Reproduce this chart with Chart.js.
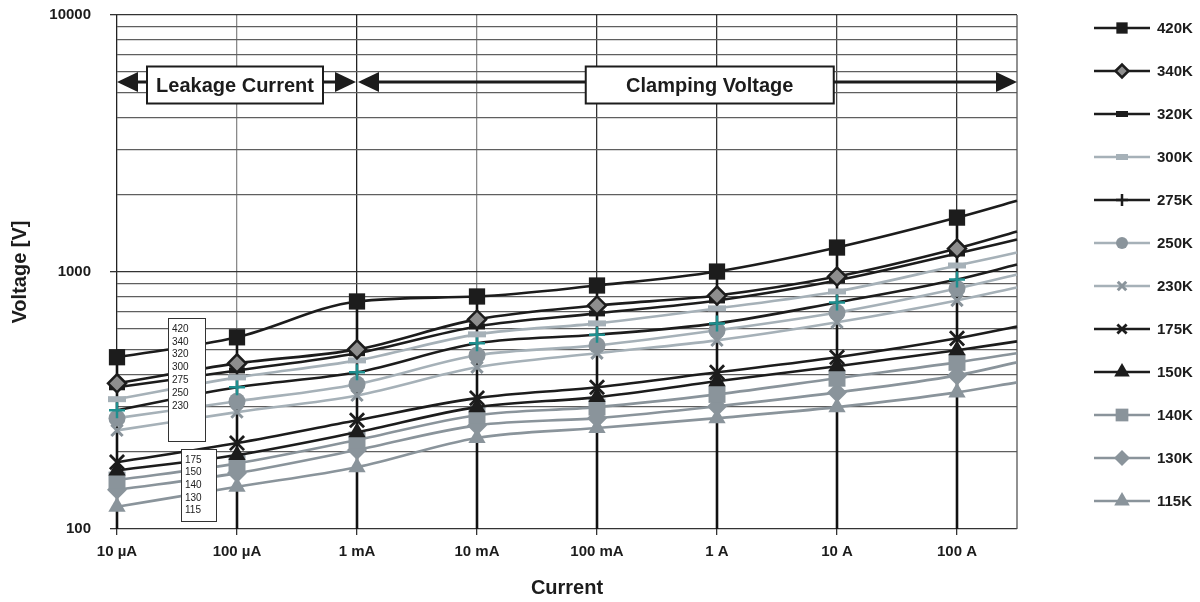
<!DOCTYPE html>
<html><head><meta charset="utf-8">
<script src="https://cdn.jsdelivr.net/npm/chart.js@4/dist/chart.umd.min.js"></script>
<style>html,body{margin:0;padding:0;background:#fff}canvas{display:block}</style>
</head><body>
<canvas id="c" width="1200" height="602"></canvas>
<script>
// ---------- data ----------
const currents = [1e-5, 1e-4, 1e-3, 1e-2, 1e-1, 1, 10, 100, 316.2];
const xTickValues = [1e-5, 1e-4, 1e-3, 1e-2, 1e-1, 1, 10, 100];
const xTickLabels = ['10 µA', '100 µA', '1 mA', '10 mA', '100 mA', '1 A', '10 A', '100 A'];
const yMajorTicks = [100, 1000, 10000];
const yTickLabels = ['100', '1000', '10000'];
const yMinorMultipliers = [2, 3, 4, 5, 6, 7, 8, 9];

const seriesNames = ['420K', '340K', '320K', '300K', '275K', '250K', '230K', '175K', '150K', '140K', '130K', '115K'];
const v420 = [466, 557, 768, 803, 886, 1004, 1245, 1628, 1895];
const v340 = [369, 441, 500, 654, 741, 810, 960, 1234, 1437];
const v320 = [356, 414, 483, 614, 690, 775, 927, 1180, 1337];
const v300 = [320, 389, 453, 572, 631, 722, 840, 1060, 1190];
const v275 = [290, 356, 407, 528, 570, 631, 761, 935, 1069];
const v250 = [270, 314, 366, 474, 518, 593, 696, 863, 978];
const v230 = [242, 285, 331, 426, 483, 542, 637, 775, 871];
const v175 = [182, 216, 265, 323, 356, 407, 466, 552, 614];
const v150 = [169, 194, 238, 298, 326, 376, 430, 496, 537];
const v140 = [155, 180, 222, 277, 298, 334, 386, 445, 483];
const v130 = [142, 165, 203, 253, 270, 300, 340, 396, 445];
const v115 = [122, 146, 174, 226, 247, 270, 298, 340, 372];
const seriesValues = [v420, v340, v320, v300, v275, v250, v230, v175, v150, v140, v130, v115];

const listUpper = ['420', '340', '320', '300', '275', '250', '230'];
const listLower = ['175', '150', '140', '130', '115'];

// ---------- styles ----------
const DARK = '#1c1c1c', LIGHT = '#a6b1b8', MID = '#8a949b';
const styles = [
  {line: DARK,  ps: 'rect',     r: 11.5, bw: 0,   fill: DARK,  stroke: DARK, lr: 8},
  {line: DARK,  ps: 'rectRot',  r: 9,    bw: 2.5, fill: '#8e8e8e', stroke: DARK, lr: 6.5},
  {line: DARK,  ps: 'line',     r: 8,    bw: 6,   fill: DARK,  stroke: DARK, lr: 6},
  {line: LIGHT, ps: 'line',     r: 9,    bw: 6,   fill: LIGHT, stroke: LIGHT, lr: 6},
  {line: DARK,  ps: 'cross',    r: 8,    bw: 2.5, fill: DARK,  stroke: '#1f8f8f', lr: 6, lstroke: DARK},
  {line: LIGHT, ps: 'circle',   r: 8.5,  bw: 0,   fill: MID,   stroke: MID, lr: 6},
  {line: LIGHT, ps: 'crossRot', r: 8,    bw: 3,   fill: MID,   stroke: MID, lr: 6},
  {line: DARK,  ps: 'crossRot', r: 10,   bw: 2.8, fill: DARK,  stroke: DARK, lr: 6.5},
  {line: DARK,  ps: 'triangle', r: 10,   bw: 0,   fill: DARK,  stroke: DARK, lr: 9},
  {line: MID,   ps: 'rect',     r: 12,   bw: 0,   fill: MID,   stroke: MID, lr: 9},
  {line: MID,   ps: 'rectRot',  r: 10,   bw: 0,   fill: MID,   stroke: MID, lr: 8},
  {line: MID,   ps: 'triangle', r: 10,   bw: 0,   fill: MID,   stroke: MID, lr: 9}
];

const FONT = '"Liberation Sans", Arial, sans-serif';

const datasets = seriesNames.map((name, i) => {
  const s = styles[i];
  return {
    label: name,
    data: seriesValues[i].map((v, j) => ({x: currents[j], y: v})),
    borderColor: s.line,
    borderWidth: 2.6,
    backgroundColor: s.fill,
    pointStyle: s.ps,
    pointRadius: seriesValues[i].map((v, j) => j < xTickValues.length ? s.r : 0),
    pointBorderWidth: s.bw,
    pointBackgroundColor: s.fill,
    pointBorderColor: s.stroke,
    cubicInterpolationMode: 'monotone',
    clip: false,
    fill: false
  };
});

function drawArrowHead(ctx, tipX, y, dir) {
  ctx.beginPath();
  ctx.moveTo(tipX, y);
  ctx.lineTo(tipX - dir * 21, y - 10);
  ctx.lineTo(tipX - dir * 21, y + 10);
  ctx.closePath();
  ctx.fill();
}
function drawLabelBox(ctx, cx, cy, w, h, text) {
  ctx.fillStyle = '#fff';
  ctx.fillRect(cx - w / 2, cy - h / 2, w, h);
  ctx.lineWidth = 2;
  ctx.strokeStyle = '#1c1c1c';
  ctx.strokeRect(cx - w / 2, cy - h / 2, w, h);
  ctx.fillStyle = '#1c1c1c';
  ctx.font = 'bold 20px ' + FONT;
  ctx.textAlign = 'center';
  ctx.textBaseline = 'middle';
  ctx.fillText(text, cx, cy + 1);
}
function drawListBox(ctx, x, y, w, h, items, step) {
  ctx.fillStyle = '#fff';
  ctx.fillRect(x, y, w, h);
  ctx.lineWidth = 1;
  ctx.strokeStyle = '#333';
  ctx.strokeRect(x + 0.5, y + 0.5, w, h);
  ctx.fillStyle = '#222';
  ctx.font = '10px ' + FONT;
  ctx.textAlign = 'left';
  ctx.textBaseline = 'middle';
  items.forEach((t, k) => ctx.fillText(t, x + 4, y + 11 + k * step));
}

const extras = {
  id: 'extras',
  beforeDatasetsDraw(chart) {
    const {ctx, chartArea} = chart;
    const xs = chart.scales.x, ys = chart.scales.y;
    ctx.save();
    ctx.strokeStyle = '#555';
    ctx.lineWidth = 1.3;
    ctx.beginPath();
    ctx.moveTo(chartArea.right, chartArea.top);
    ctx.lineTo(chartArea.right, chartArea.bottom);
    ctx.stroke();
    ctx.strokeStyle = '#111';
    ctx.lineWidth = 2.6;
    xTickValues.forEach((xv, j) => {
      const top = Math.max(...seriesValues.map(a => a[j]));
      const px = xs.getPixelForValue(xv);
      ctx.beginPath();
      ctx.moveTo(px, ys.getPixelForValue(top));
      ctx.lineTo(px, chartArea.bottom);
      ctx.stroke();
    });
    ctx.restore();
  },
  afterDatasetsDraw(chart) {
    const {ctx, chartArea} = chart;
    const xs = chart.scales.x, ys = chart.scales.y;
    ctx.save();
    const ay = Math.round(ys.getPixelForValue(5500));
    const x0 = xs.getPixelForValue(1e-5), x1 = xs.getPixelForValue(1e-3), x2 = chartArea.right;
    ctx.fillStyle = '#1c1c1c';
    ctx.strokeStyle = '#1c1c1c';
    ctx.lineWidth = 3;
    ctx.beginPath();
    ctx.moveTo(x0 + 10, ay); ctx.lineTo(x1 - 10, ay);
    ctx.moveTo(x1 + 10, ay); ctx.lineTo(x2 - 10, ay);
    ctx.stroke();
    drawArrowHead(ctx, x0, ay, -1);
    drawArrowHead(ctx, x1 - 1, ay, 1);
    drawArrowHead(ctx, x1 + 1, ay, -1);
    drawArrowHead(ctx, x2, ay, 1);
    drawLabelBox(ctx, xs.getPixelForValue(1e-4) - 2, ay + 3, 176, 37, 'Leakage Current');
    drawLabelBox(ctx, xs.getPixelForValue(0.87), ay + 3, 248, 37, 'Clamping Voltage');
    drawListBox(ctx, chartArea.left + 51, chartArea.top + 303, 37, 123, listUpper, 12.8);
    drawListBox(ctx, chartArea.left + 64, chartArea.top + 434, 35, 72, listLower, 12.6);
    ctx.restore();
  },
  afterDraw(chart) {
    const ctx = chart.ctx;
    ctx.save();
    chart.data.datasets.forEach((ds, i) => {
      const s = styles[i];
      const y = 28 + i * 43;
      ctx.strokeStyle = s.line;
      ctx.lineWidth = 2.6;
      ctx.beginPath();
      ctx.moveTo(1094, y); ctx.lineTo(1150, y);
      ctx.stroke();
      ctx.fillStyle = s.fill;
      ctx.strokeStyle = s.lstroke || s.stroke;
      ctx.lineWidth = s.ps === 'line' ? 6 : (s.bw || 0);
      Chart.helpers.drawPoint(ctx, {pointStyle: s.ps, radius: s.lr, borderWidth: s.ps === 'line' ? 6 : s.bw, rotation: 0}, 1122, y);
      ctx.fillStyle = '#1c1c1c';
      ctx.font = 'bold 15px ' + FONT;
      ctx.textAlign = 'left';
      ctx.textBaseline = 'middle';
      ctx.fillText(ds.label, 1157, y + 1);
    });
    ctx.restore();
  }
};

const xGridColors = ['#222', '#8a8a8a', '#222', '#8a8a8a', '#333', '#333', '#444', '#333'];

new Chart(document.getElementById('c'), {
  type: 'line',
  data: {datasets},
  options: {
    responsive: false,
    animation: false,
    events: [],
    devicePixelRatio: 1,
    layout: {padding: {left: 0, right: 183, top: 14, bottom: 0}},
    plugins: {legend: {display: false}, tooltip: {enabled: false}},
    scales: {
      x: {
        type: 'logarithmic',
        min: currents[0],
        max: currents[currents.length - 1],
        afterBuildTicks: sc => { sc.ticks = xTickValues.map(v => ({value: v})); },
        afterFit: sc => { sc.height = 73; sc.paddingLeft = 0; sc.paddingRight = 0; },
        ticks: {
          autoSkip: false, maxRotation: 0, padding: 8,
          color: '#1c1c1c',
          font: {family: FONT, size: 15, weight: 'bold'},
          callback: (v) => { const k = xTickValues.indexOf(v); return k >= 0 ? xTickLabels[k] : ''; }
        },
        grid: {
          color: c => xGridColors[c.index] || '#444',
          lineWidth: 1.3,
          tickLength: 6,
          tickColor: '#333'
        },
        border: {display: false},
        title: {display: true, text: 'Current', color: '#1c1c1c', font: {family: FONT, size: 20, weight: 'bold'}, padding: {top: 0, bottom: 2}}
      },
      y: {
        type: 'logarithmic',
        min: 100,
        max: 10000,
        afterBuildTicks: sc => {
          const t = [];
          yMajorTicks.forEach((m, k) => {
            t.push({value: m});
            if (k < yMajorTicks.length - 1) yMinorMultipliers.forEach(f => t.push({value: m * f}));
          });
          sc.ticks = t;
        },
        afterFit: sc => { sc.width = 117; sc.paddingTop = 0; sc.paddingBottom = 0; },
        ticks: {
          autoSkip: false, padding: 19,
          color: '#1c1c1c',
          font: {family: FONT, size: 15, weight: 'bold'},
          callback: (v) => { const k = yMajorTicks.indexOf(v); return k >= 0 ? yTickLabels[k] : ''; }
        },
        grid: {
          color: c => (yMajorTicks.includes(c.tick.value) ? '#333' : '#5f5f5f'),
          lineWidth: 1.3,
          tickLength: 7,
          tickColor: c => (yMajorTicks.includes(c.tick.value) ? '#333' : 'rgba(0,0,0,0)')
        },
        border: {display: false},
        title: {display: true, text: 'Voltage [V]', color: '#1c1c1c', font: {family: FONT, size: 20, weight: 'bold'}, padding: {top: 8, bottom: 0}}
      }
    }
  },
  plugins: [extras]
});
</script>
</body></html>
